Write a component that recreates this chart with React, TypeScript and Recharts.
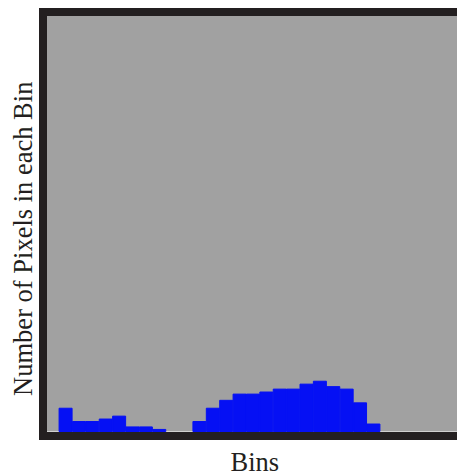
import { Bar, BarChart, CartesianGrid, XAxis, YAxis } from 'recharts';

// Histogram bins (32 bins, only the visible part of the frame is shown)
const BINS = Array.from({ length: 32 }, (_, i) => String(i));
const PIXEL_COUNTS = [
  0, 56, 24, 24, 30, 37, 11, 11, 5, 0, 0, 24, 56, 75, 90, 90,
  95, 102, 102, 114, 121, 108, 102, 69, 18, 0, 0, 0, 0, 0, 0, 0,
];
const Y_MAX = 1000;

const X_LABEL = 'Bins';
const Y_LABEL = 'Number of Pixels in each Bin';

const data = BINS.map((b, i) => ({ bin: b, count: PIXEL_COUNTS[i] }));

const INK = '#231f20';
const FONT = '"Liberation Serif", "Times New Roman", serif';

function YLabel({ viewBox }: { viewBox?: { x: number; y: number; width: number; height: number } }) {
  if (!viewBox) return null;
  const x = 32;
  const y = viewBox.y + viewBox.height / 2 + 15;
  return (
    <text
      x={x}
      y={y}
      transform={`rotate(-90 ${x} ${y})`}
      textAnchor="middle"
      fontFamily={FONT}
      fontSize={26.5}
      fill={INK}
    >
      {Y_LABEL}
    </text>
  );
}

export default function App() {
  return (
    <div
      style={{
        position: 'fixed',
        left: 0,
        top: 0,
        width: 457,
        height: 474,
        overflow: 'hidden',
        background: '#fff',
      }}
    >
      <BarChart
        width={490}
        height={474}
        data={data}
        barCategoryGap={0}
        barGap={0}
        margin={{ top: 16, right: 16, left: 0, bottom: 0.5 }}
      >
        <CartesianGrid fill="#a1a1a1" stroke="none" horizontal={false} vertical={false} />
        <XAxis
          dataKey="bin"
          tick={false}
          tickLine={false}
          axisLine={false}
          height={42}
          label={{
            value: X_LABEL,
            position: 'insideBottom',
            offset: 2.5,
            dx: -5,
            fontFamily: FONT,
            fontSize: 26.5,
            fill: INK,
          }}
        />
        <YAxis
          domain={[0, Y_MAX]}
          tick={false}
          tickLine={false}
          axisLine={false}
          width={45.7}
          label={<YLabel />}
        />
        <Bar
          dataKey="count"
          fill="#0510f4"
          stroke="#0510f4"
          strokeWidth={1}
          isAnimationActive={false}
        />
      </BarChart>
      {/* thick frame around the plot area */}
      <div
        style={{
          position: 'absolute',
          left: 39,
          top: 8,
          width: 460,
          height: 431.5,
          boxSizing: 'border-box',
          border: `8px solid ${INK}`,
          pointerEvents: 'none',
        }}
      />
    </div>
  );
}
